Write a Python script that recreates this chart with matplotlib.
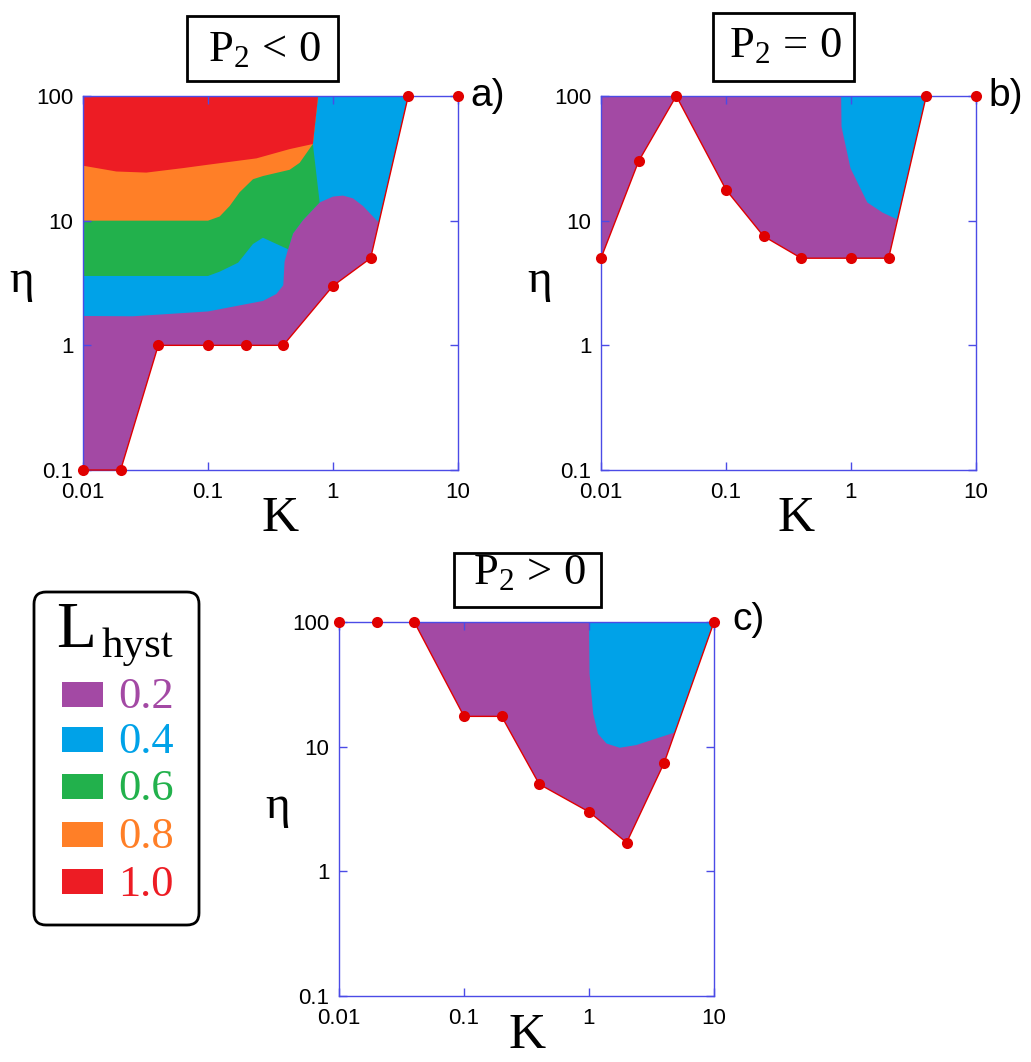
import numpy as np
import matplotlib.pyplot as plt
from matplotlib.patches import Polygon, Rectangle, FancyBboxPatch
from matplotlib.ticker import NullLocator

plt.rcParams['font.family'] = 'Liberation Sans'
plt.rcParams['mathtext.fontset'] = 'custom'
plt.rcParams['mathtext.rm'] = 'Liberation Serif'
plt.rcParams['mathtext.it'] = 'Liberation Serif:italic'

# colours (L_hyst levels)
levels = ['0.2', '0.4', '0.6', '0.8', '1.0']
colors = ['#A349A4', '#00A2E8', '#22B14C', '#FF7F27', '#ED1C24']
dot_color = '#E00000'
spine_color = '#4B4BE6'

# ---------------- panel a : P2 < 0 ----------------
a_dots_K = [0.01, 0.02, 0.04, 0.1, 0.2, 0.4, 1, 2, 4, 10]
a_dots_eta = [0.1, 0.1, 1, 1, 1, 1, 3, 5, 100, 100]
a_region_K = [0.01, 0.02, 0.04, 0.1, 0.2, 0.4, 1, 2, 4, 0.01]
a_region_eta = [0.1, 0.1, 1, 1, 1, 1, 3, 5, 100, 100]

a_blue_K = [0.01, 10, 10, 2.6, 2.29, 1.74, 1.445, 1.2, 1.0, 0.782, 0.575, 0.479,
            0.437, 0.41, 0.4, 0.352, 0.275, 0.1, 0.025, 0.01]
a_blue_eta = [100, 100, 3, 7, 9.8, 13.1, 15.1, 15.9, 15.6, 14.0, 10.1, 7.9,
              5.9, 4.7, 3.03, 2.58, 2.27, 1.87, 1.71, 1.72]
a_green_K = [0.01, 0.76, 0.69, 0.782, 0.575, 0.479, 0.437, 0.331, 0.275, 0.229,
             0.174, 0.124, 0.1, 0.01]
a_green_eta = [100, 100, 41.2, 14.0, 10.1, 7.9, 5.9, 6.7, 7.3, 6.5,
               4.6, 3.9, 3.6, 3.6]
a_orange_K = [0.01, 0.76, 0.69, 0.541, 0.45, 0.275, 0.229, 0.179, 0.149, 0.124, 0.1, 0.01]
a_orange_eta = [100, 100, 41.2, 29.1, 25.6, 22.8, 21.5, 16.9, 13.1, 10.8, 10, 10]
a_red_K = [0.01, 0.76, 0.69, 0.45, 0.244, 0.1, 0.063, 0.0321, 0.0185, 0.01]
a_red_eta = [100, 100, 41.2, 37.5, 31.6, 28.1, 26.4, 24.3, 24.8, 27.6]

# ---------------- panel b : P2 = 0 ----------------
b_dots_K = [0.01, 0.02, 0.04, 0.1, 0.2, 0.4, 1, 2, 4, 10]
b_dots_eta = [5, 30, 100, 17.7, 7.5, 5, 5, 5, 100, 100]
b_region_K = [0.01, 0.02, 0.04, 0.1, 0.2, 0.4, 1, 2, 4, 0.01]
b_region_eta = [5, 30, 100, 17.7, 7.5, 5, 5, 5, 100, 100]
b_blue_K = [0.834, 10, 10, 2.36, 1.79, 1.35, 0.99, 0.84]
b_blue_eta = [100, 100, 9, 10.2, 11.6, 14.0, 26.4, 56.7]

# ---------------- panel c : P2 > 0 ----------------
c_dots_K = [0.01, 0.02, 0.04, 0.1, 0.2, 0.4, 1, 2, 4, 10]
c_dots_eta = [100, 100, 100, 17.5, 17.5, 5, 3, 1.7, 7.45, 100]
c_region_K = [0.04, 0.1, 0.2, 0.4, 1, 2, 4, 10]
c_region_eta = [100, 17.5, 17.5, 5, 3, 1.7, 7.45, 100]
c_blue_K = [1.0, 10, 10, 4.76, 3.25, 2.39, 1.76, 1.38, 1.18, 1.08, 1.01]
c_blue_eta = [100, 100, 12.9, 12.9, 11.4, 10.3, 9.8, 10.6, 12.7, 18.4, 38.6]

W, H = 1031, 1062
fig = plt.figure(figsize=(W / 100, H / 100), dpi=100)


def make_axes(x0, y0, x1, y1):
    # pixel box (top-left origin) -> figure fraction
    ax = fig.add_axes([x0 / W, 1 - y1 / H, (x1 - x0) / W, (y1 - y0) / H])
    ax.set_xscale('log')
    ax.set_yscale('log')
    ax.set_xlim(0.01, 10)
    ax.set_ylim(0.1, 100)
    ax.set_xticks([0.01, 0.1, 1, 10])
    ax.set_xticklabels(['0.01', '0.1', '1', '10'])
    ax.set_yticks([0.1, 1, 10, 100])
    ax.set_yticklabels(['0.1', '1', '10', '100'])
    ax.xaxis.set_minor_locator(NullLocator())
    ax.yaxis.set_minor_locator(NullLocator())
    ax.tick_params(direction='in', length=6, width=1, color=spine_color,
                   top=True, right=True, labelsize=16, pad=7)
    ax.tick_params(axis='x', pad=9)
    for s in ax.spines.values():
        s.set_color(spine_color)
        s.set_linewidth(1)
    return ax


def draw_panel(ax, region, bands, line, dots):
    reg = Polygon(np.column_stack(region), closed=True, fc=colors[0], ec='none', zorder=1)
    ax.add_patch(reg)
    for (kk, ee), col in bands:
        p = Polygon(np.column_stack([kk, ee]), closed=True, fc=col, ec='none', zorder=1.1)
        ax.add_patch(p)
        p.set_clip_path(reg)
    ax.plot(line[0], line[1], color=dot_color, lw=1, zorder=3, clip_on=False)
    ax.plot(dots[0], dots[1], 'o', color=dot_color, ms=8, mec='none', zorder=4, clip_on=False)


ax_a = make_axes(83, 96, 458, 470)
draw_panel(ax_a, (a_region_K, a_region_eta),
           [((a_blue_K, a_blue_eta), colors[1]),
            ((a_green_K, a_green_eta), colors[2]),
            ((a_orange_K, a_orange_eta), colors[3]),
            ((a_red_K, a_red_eta), colors[4])],
           (a_dots_K[:9], a_dots_eta[:9]), (a_dots_K, a_dots_eta))

ax_b = make_axes(601, 96, 976, 470)
draw_panel(ax_b, (b_region_K, b_region_eta),
           [((b_blue_K, b_blue_eta), colors[1])],
           (b_dots_K[:9], b_dots_eta[:9]), (b_dots_K, b_dots_eta))

ax_c = make_axes(339, 622, 714, 996)
draw_panel(ax_c, (c_region_K, c_region_eta),
           [((c_blue_K, c_blue_eta), colors[1])],
           (c_region_K, c_region_eta), (c_dots_K, c_dots_eta))

# overlay in pixel coordinates for titles, labels and the legend
ov = fig.add_axes([0, 0, 1, 1], zorder=-1)
ov.set_xlim(0, W)
ov.set_ylim(H, 0)
ov.axis('off')

serif = 'Liberation Serif'
titles = [r'$\mathrm{P}_{2}\,<\,0$', r'$\mathrm{P}_{2}\,=\,0$', r'$\mathrm{P}_{2}\,>\,0$']
title_boxes = [(187, 16, 338, 81), (713, 13, 854, 81), (454, 553, 601, 607)]
title_base = [61, 57, 584]
for t, (x0, y0, x1, y1), yb in zip(titles, title_boxes, title_base):
    ov.add_patch(Rectangle((x0, y0), x1 - x0, y1 - y0, fc='white', ec='black', lw=2))
    ov.text((x0 + x1) / 2 + 2, yb, t, ha='center', va='baseline', fontsize=32)

for lab, x, y in [('a)', 470, 96), ('b)', 988, 96), ('c)', 732, 620)]:
    ov.text(x, y, lab, ha='left', va='center', fontsize=28, family='Liberation Sans')

for x, y in [(22, 281), (540, 281), (278, 807)]:
    ov.text(x, y, 'η', ha='center', va='center', fontsize=34, family=serif)
for x, y in [(280, 519), (796, 519), (527, 1036)]:
    ov.text(x, y, 'K', ha='center', va='center', fontsize=37, family=serif)

# legend
ov.add_patch(FancyBboxPatch((34, 592), 165, 333, boxstyle='round,pad=0,rounding_size=12',
                            fc='white', ec='black', lw=2))
ov.text(56, 647, 'L', ha='left', va='baseline', fontsize=47, family=serif)
ov.text(102, 657, 'hyst', ha='left', va='baseline', fontsize=31, family=serif)
row_y = [694.5, 739, 786.5, 834.5, 881.5]
for lv, col, yc in zip(levels, colors, row_y):
    ov.add_patch(Rectangle((62, yc - 12.5), 41, 25, fc=col, ec='none'))
    ov.text(118, yc + 14, lv, ha='left', va='baseline', fontsize=32, family=serif, color=col)

fig.savefig('out.png', dpi=100)
